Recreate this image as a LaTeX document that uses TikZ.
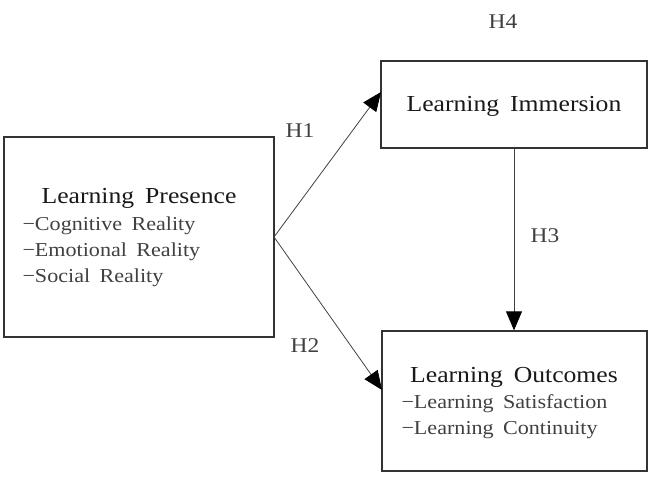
\documentclass[tikz,border=0pt]{standalone}
\usepackage{fontspec}
\setmainfont{Liberation Serif}[FakeStretch=1.12,WordSpace=1.7]
\usetikzlibrary{arrows.meta}
\begin{document}
\begin{tikzpicture}[x=1bp,y=-1bp,
  box/.style={draw=black!80,line width=1.3bp,inner sep=0pt},
  conn/.style={draw=black!75,line width=0.8bp,-{Triangle[length=19bp,width=16bp,color=black]}},
  hd/.style={font=\fontsize{23}{26}\selectfont,text=black!90},
  sub/.style={font=\fontsize{19.8}{22}\selectfont,text=black!75},
  lbl/.style={font=\fontsize{21}{24}\selectfont,text=black!75}]
\useasboundingbox (0,0) rectangle (659,486);
\node[box,minimum width=270bp,minimum height=200bp] (lp) at (139,237) {};
\node[box,minimum width=266bp,minimum height=87bp] (li) at (514,104.5) {};
\node[box,minimum width=265bp,minimum height=140bp] (lo) at (514.5,401) {};
\node[hd] (lpt) at (139,198) {Learning Presence};
\node[sub,anchor=west] (lp1) at (19,226) {−Cognitive Reality};
\node[sub,anchor=west] (lp2) at (19,252) {−Emotional Reality};
\node[sub,anchor=west] (lp3) at (19,278) {−Social Reality};
\node[hd] (lit) at (514,106) {Learning Immersion};
\node[hd] (lot) at (514,377) {Learning Outcomes};
\node[sub,anchor=west] (lo1) at (398,404) {−Learning Satisfaction};
\node[sub,anchor=west] (lo2) at (398,430) {−Learning Continuity};
\node[lbl] (h4) at (503,22) {H4};
\node[lbl] (h1) at (300,131) {H1};
\node[lbl] (h2) at (305,346) {H2};
\node[lbl] (h3) at (545,236) {H3};
\coordinate (src) at (274,237);
\draw[conn] (src) -- (381,92);
\draw[conn] (src) -- (382,390);
\draw[conn] (li.south -| 514,0) -- (lo.north -| 514,0);
\end{tikzpicture}
\end{document}
